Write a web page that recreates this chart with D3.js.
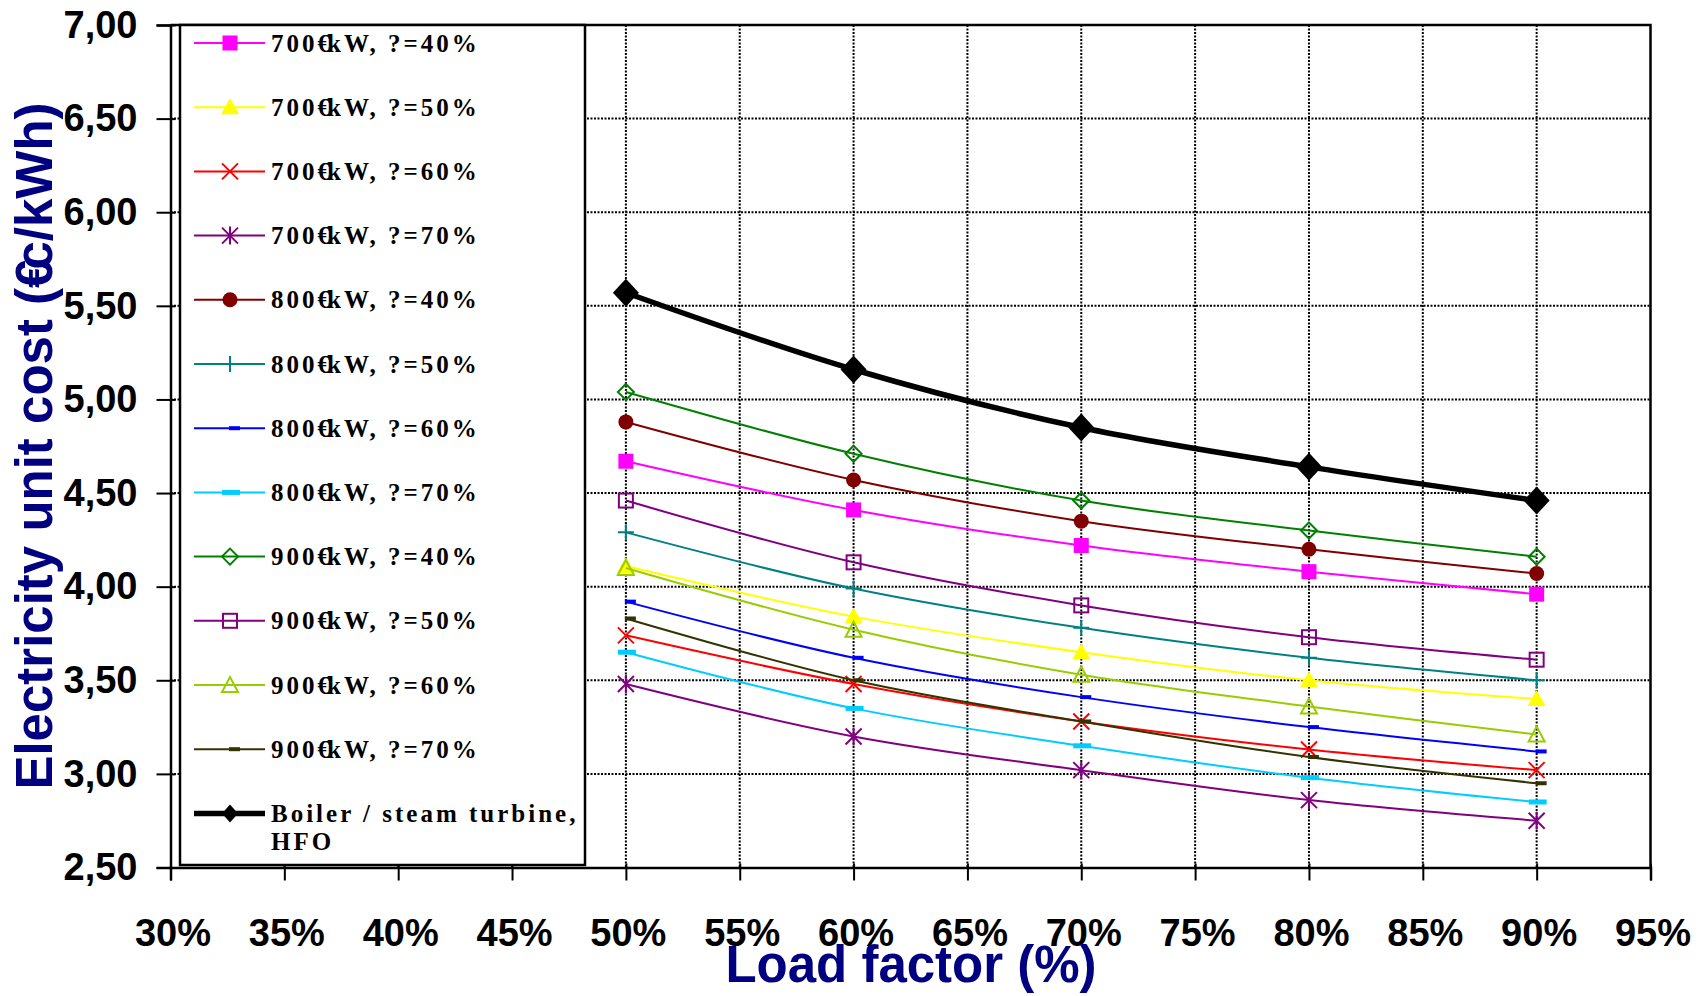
<!DOCTYPE html>
<html>
<head>
    <meta charset="UTF-8">
    <title>Electricity unit cost vs load factor</title>
    <script src="https://cdnjs.cloudflare.com/ajax/libs/d3/7.8.5/d3.min.js"></script>
    <style>
        body { margin: 0; background: #fff; }
        .tick text { font-family: "Liberation Sans", Arial, sans-serif; font-weight: bold; font-size: 38px; fill: #000; }
        .title { font-family: "Liberation Sans", Arial, sans-serif; font-weight: bold; font-size: 51px; fill: #000080; }
        .leg { font-family: "Liberation Serif", "Times New Roman", serif; font-weight: bold; font-size: 25px; letter-spacing: 3px; fill: #000; }
    </style>
</head>
<body>
<svg id="chart"></svg>
<script>
    // load factor (%) on x
    var loadFactors = [50, 60, 70, 80, 90];

    // unit cost (€c/kWh)
    var c700_40 = [4.67, 4.41, 4.22, 4.08, 3.96];
    var c700_50 = [4.11, 3.84, 3.65, 3.50, 3.40];
    var c700_60 = [3.74, 3.48, 3.28, 3.13, 3.02];
    var c700_70 = [3.48, 3.20, 3.02, 2.86, 2.75];
    var c800_40 = [4.88, 4.57, 4.35, 4.20, 4.07];
    var c800_50 = [4.29, 3.99, 3.78, 3.62, 3.50];
    var c800_60 = [3.92, 3.62, 3.41, 3.25, 3.12];
    var c800_70 = [3.65, 3.35, 3.15, 2.98, 2.85];
    var c900_40 = [5.04, 4.71, 4.46, 4.30, 4.16];
    var c900_50 = [4.46, 4.13, 3.90, 3.73, 3.61];
    var c900_60 = [4.10, 3.77, 3.53, 3.36, 3.21];
    var c900_70 = [3.83, 3.50, 3.28, 3.09, 2.95];
    var boilerHFO = [5.57, 5.16, 4.85, 4.64, 4.46];

    var seriesNames = [
        "700€kW, ?=40%", "700€kW, ?=50%", "700€kW, ?=60%", "700€kW, ?=70%",
        "800€kW, ?=40%", "800€kW, ?=50%", "800€kW, ?=60%", "800€kW, ?=70%",
        "900€kW, ?=40%", "900€kW, ?=50%", "900€kW, ?=60%", "900€kW, ?=70%",
        "Boiler / steam turbine, HFO"
    ];
    var seriesValues = [c700_40, c700_50, c700_60, c700_70, c800_40, c800_50, c800_60, c800_70,
        c900_40, c900_50, c900_60, c900_70, boilerHFO];
    var colors = ["#ff00ff", "#ffff00", "#ff0000", "#800080", "#800000", "#008080", "#0000ff", "#00ccff",
        "#008000", "#800080", "#99cc00", "#333300", "#000000"];
    var markers = ["square", "triangle", "cross", "star", "circle", "plus", "dash", "longdash",
        "diamondOpen", "squareOpen", "triangleOpen", "dash", "diamond"];

    var xTicks = d3.range(30, 96, 5);
    var yTicks = d3.range(2.5, 7.01, 0.5);

    var w = 1707, h = 996;
    var svg = d3.select("#chart").attr("width", w).attr("height", h);

    var x = d3.scaleLinear().domain([30, 95]).range([170.5, 1650.5]);
    var y = d3.scaleLinear().domain([2.5, 7]).range([867.5, 25]);

    // grid
    var grid = svg.append("g").attr("stroke", "#000").attr("stroke-width", 2).attr("stroke-dasharray", "2,1.5");
    grid.selectAll("line.v").data(xTicks.slice(1, -1)).enter().append("line")
        .attr("x1", function (d) { return x(d); }).attr("x2", function (d) { return x(d); })
        .attr("y1", y(7)).attr("y2", y(2.5));
    grid.selectAll("line.h").data(yTicks.slice(1, -1)).enter().append("line")
        .attr("x1", x(30)).attr("x2", x(95))
        .attr("y1", function (d) { return y(d); }).attr("y2", function (d) { return y(d); });

    // top / right border
    svg.append("path")
        .attr("d", "M" + x(30) + "," + y(7) + "H" + x(95) + "V" + y(2.5))
        .attr("fill", "none").attr("stroke", "#000").attr("stroke-width", 2.5);

    // axes
    var fmt = function (d) { return d.toFixed(2).replace(".", ","); };
    var yAxis = svg.append("g").attr("transform", "translate(" + x(30) + ",0)")
        .call(d3.axisLeft(y).tickValues(yTicks).tickFormat(fmt).tickSizeOuter(0).tickSize(14).tickPadding(19));
    yAxis.selectAll(".tick line").attr("stroke-width", 2);
    yAxis.selectAll(".tick").append("line").attr("x2", 5).attr("stroke", "#000").attr("stroke-width", 2);
    yAxis.selectAll(".tick text").attr("dy", "0.32em");
    yAxis.select(".domain").attr("stroke-width", 2.5);

    var xAxis = svg.append("g").attr("transform", "translate(0," + y(2.5) + ")")
        .call(d3.axisBottom(x).tickValues(xTicks).tickFormat(function (d) { return d + "%"; })
            .tickSizeOuter(0).tickSize(13).tickPadding(39));
    xAxis.selectAll(".tick line").attr("stroke-width", 2);
    xAxis.selectAll(".tick").append("line").attr("y2", -4).attr("stroke", "#000").attr("stroke-width", 2);
    xAxis.selectAll(".tick text").attr("dx", 2);
    xAxis.select(".domain").attr("stroke-width", 2.5);

    // titles
    svg.append("text").attr("class", "title").attr("x", 911).attr("y", 982)
        .attr("text-anchor", "middle").text("Load factor (%)");
    var yt = svg.append("text").attr("class", "title")
        .attr("transform", "translate(52,446) rotate(-90)").attr("text-anchor", "middle");
    yt.append("tspan").text("Electricity unit cost (€");
    yt.append("tspan").attr("dx", -10).text("c/kWh)");

    // marker shapes
    function marker(g, type, color, big) {
        var s = big ? 13 : 8;
        if (type === "square") {
            g.append("rect").attr("x", -7.5).attr("y", -7.5).attr("width", 15).attr("height", 15).attr("fill", color);
        } else if (type === "squareOpen") {
            g.append("rect").attr("x", -7).attr("y", -7).attr("width", 14).attr("height", 14)
                .attr("fill", "none").attr("stroke", color).attr("stroke-width", 2);
        } else if (type === "triangle") {
            g.append("path").attr("d", "M0,-9L9,7L-9,7Z").attr("fill", color);
        } else if (type === "triangleOpen") {
            g.append("path").attr("d", "M0,-8L8,7L-8,7Z").attr("fill", "none").attr("stroke", color).attr("stroke-width", 2);
        } else if (type === "circle") {
            g.append("circle").attr("r", 7.5).attr("fill", color);
        } else if (type === "cross") {
            g.append("path").attr("d", "M-8,-8L8,8M-8,8L8,-8").attr("stroke", color).attr("stroke-width", 2);
        } else if (type === "star") {
            g.append("path").attr("d", "M-8,-8L8,8M-8,8L8,-8M0,-9V9").attr("stroke", color).attr("stroke-width", 2);
        } else if (type === "plus") {
            g.append("path").attr("d", "M0,-8V8M-8,0H8").attr("stroke", color).attr("stroke-width", 2);
        } else if (type === "dash") {
            g.append("rect").attr("x", -1).attr("y", -2).attr("width", 11).attr("height", 4).attr("fill", color);
        } else if (type === "longdash") {
            g.append("rect").attr("x", -8).attr("y", -2.5).attr("width", 18).attr("height", 5).attr("fill", color);
        } else if (type === "diamondOpen") {
            g.append("path").attr("d", "M0,-8L8,0L0,8L-8,0Z").attr("fill", "none").attr("stroke", color).attr("stroke-width", 2);
        } else if (type === "diamond") {
            g.append("path").attr("d", "M0,-" + (s + 1) + "L" + s + ",0L0," + (s + 1) + "L-" + s + ",0Z").attr("fill", color);
        }
    }

    // series
    var line = d3.line()
        .x(function (d) { return x(d[0]); })
        .y(function (d) { return y(d[1]); })
        .curve(d3.curveCatmullRom.alpha(0.5));

    seriesValues.forEach(function (vals, i) {
        var pts = vals.map(function (v, j) { return [loadFactors[j], v]; });
        var isBoiler = i === seriesValues.length - 1;
        svg.append("path").datum(pts).attr("d", line)
            .attr("fill", "none").attr("stroke", colors[i]).attr("stroke-width", isBoiler ? 5.5 : 2);
        pts.forEach(function (p) {
            var g = svg.append("g").attr("transform", "translate(" + x(p[0]) + "," + y(p[1]) + ")");
            marker(g, markers[i], colors[i], isBoiler);
        });
    });

    // legend
    var leg = svg.append("g");
    leg.append("rect").attr("x", 180).attr("y", 25).attr("width", 405).attr("height", 840)
        .attr("fill", "#fff").attr("stroke", "#000").attr("stroke-width", 2.5);
    seriesNames.forEach(function (name, i) {
        var cy = 43 + i * 64.2;
        var isBoiler = i === seriesNames.length - 1;
        leg.append("line").attr("x1", 194).attr("x2", 265).attr("y1", cy).attr("y2", cy)
            .attr("stroke", colors[i]).attr("stroke-width", isBoiler ? 5.5 : 2);
        var g = leg.append("g").attr("transform", "translate(230," + cy + ")");
        marker(g, markers[i], colors[i], false);
        var t = leg.append("text").attr("class", "leg").attr("x", 271).attr("y", cy + 8.5);
        if (isBoiler) {
            t.text("Boiler / steam turbine,");
            leg.append("text").attr("class", "leg").attr("x", 271).attr("y", cy + 37).text("HFO");
        } else {
            var parts = name.split("€");
            t.append("tspan").text(parts[0] + "€");
            t.append("tspan").attr("dx", -6).text(parts[1]);
        }
    });
</script>
</body>
</html>
